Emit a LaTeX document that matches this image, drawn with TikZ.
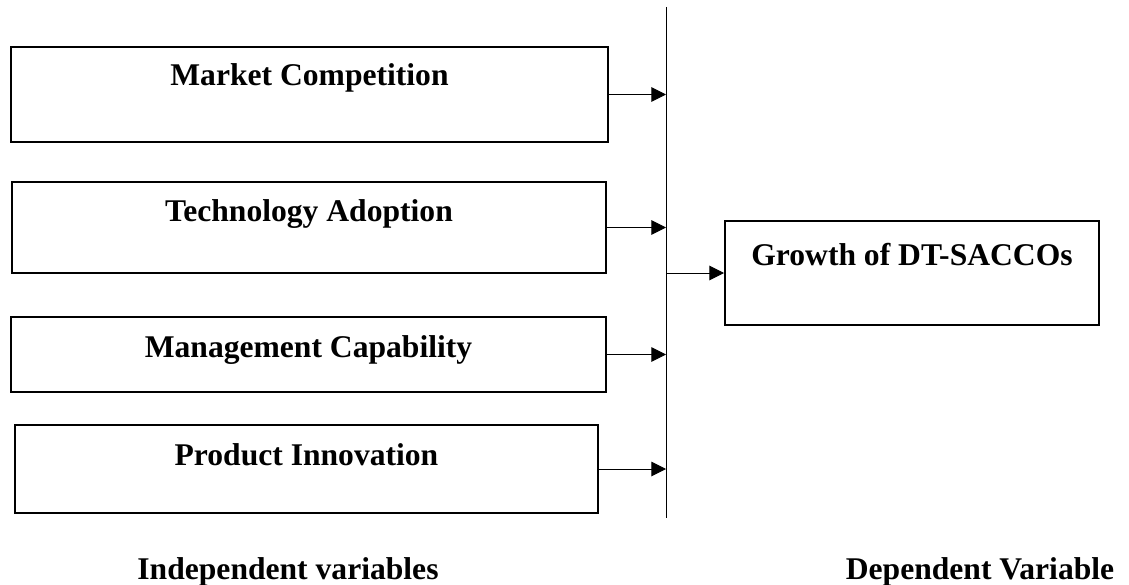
\documentclass[tikz,border=0pt]{standalone}
\usepackage{fontspec}
\setmainfont{Liberation Serif}
\usetikzlibrary{arrows.meta}

\tikzset{every picture/.style={line width=0.75pt}}
\tikzset{
  varbox/.style={draw, line width=1.5pt, inner sep=0pt},
  varlabel/.style={anchor=base, inner sep=0.75pt, font=\fontsize{23.7}{28}\selectfont\bfseries},
  conn/.style={-{Triangle[length=11pt,width=11pt]}, line width=0.75pt}
}

\begin{document}
\begin{tikzpicture}[x=0.75pt,y=0.75pt,yscale=-1,xscale=1]
            %set diagram left start at 0, and has height of 585
            \useasboundingbox (0,0) rectangle (1129,585);

            %Shape: Rectangle [id:mc] 
            \node [varbox, minimum width=447.75pt, minimum height=71.25pt] (mc) at (309.5,94.5) {};
            %Shape: Rectangle [id:ta] 
            \node [varbox, minimum width=445pt, minimum height=68.25pt] (ta) at (309,227.5) {};
            %Shape: Rectangle [id:mcap] 
            \node [varbox, minimum width=446.25pt, minimum height=56.25pt] (mcap) at (308.5,354.5) {};
            %Shape: Rectangle [id:pi] 
            \node [varbox, minimum width=437.25pt, minimum height=66pt] (pi) at (306.5,469) {};
            %Shape: Rectangle [id:growth] 
            \node [varbox, minimum width=280.5pt, minimum height=78pt] (growth) at (912,273) {};

            %Straight Lines [id:bus] 
            \coordinate (bus-top) at (666,7);
            \coordinate (bus-bot) at (666,518);
            \draw (bus-top) -- (bus-bot) ;

            %Straight Lines [id:arrows into bus] 
            \draw [conn] (mc.east) -- (mc.east -| bus-top) ;
            \draw [conn] (ta.east) -- (ta.east -| bus-top) ;
            \draw [conn] (mcap.east) -- (mcap.east -| bus-top) ;
            \draw [conn] (pi.east) -- (pi.east -| bus-top) ;
            %Straight Lines [id:arrow out of bus] 
            \draw [conn] (growth.west -| bus-top) -- (growth.west) ;

            % Text Node (yshift runs downwards here, yscale=-1)
            \node [varlabel] (mc-t) at ([yshift=30pt]mc.north) {Market Competition};
            % Text Node
            \node [varlabel] (ta-t) at ([yshift=30pt]ta.north) {Technology Adoption};
            % Text Node
            \node [varlabel] (mcap-t) at ([yshift=30.75pt]mcap.north) {Management Capability};
            % Text Node
            \node [varlabel] (pi-t) at ([yshift=30.75pt]pi.north) {Product Innovation};
            % Text Node
            \node [varlabel] (growth-t) at ([yshift=33.75pt]growth.north) {Growth of DT-SACCOs};
            % Text Node
            \node [varlabel] (indep) at (288,579) {Independent variables};
            % Text Node
            \node [varlabel] (dep) at (980,579) {Dependent Variable};
\end{tikzpicture}
\end{document}
